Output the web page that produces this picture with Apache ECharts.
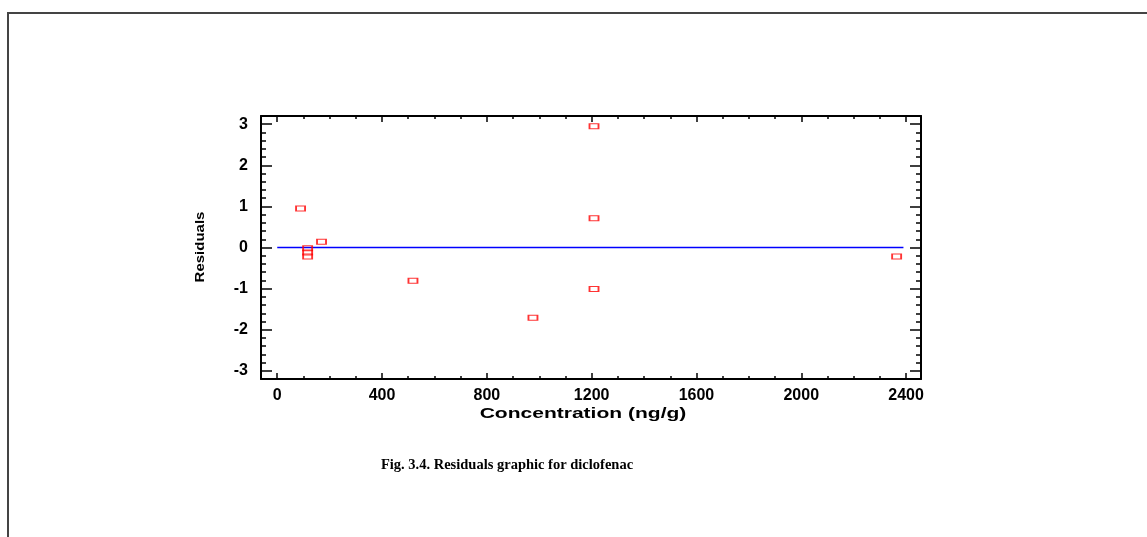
<!DOCTYPE html>
<html>
<head>
<meta charset="utf-8">
<script src="https://cdn.jsdelivr.net/npm/echarts@6/dist/echarts.min.js"></script>
<style>
html,body{margin:0;padding:0;background:#fff;}
#c{width:1147px;height:537px;}
</style>
</head>
<body>
<div id="c"></div>
<script>
// Data
var concentration = [89, 169, 116, 116, 116, 518, 976, 1209, 1209, 1209, 2364];
var residuals     = [0.95, 0.14, -0.02, -0.12, -0.22, -0.81, -1.71, 2.95, 0.71, -1.01, -0.22];
var xMajorTicks = [0, 400, 800, 1200, 1600, 2000, 2400];
var xMinorTicks = [100, 200, 300, 500, 600, 700, 900, 1000, 1100, 1300, 1400, 1500, 1700, 1800, 1900, 2100, 2200, 2300];
var yMajorTicks = [-3, -2, -1, 0, 1, 2, 3];
var yMinorTicks = [-2.8, -2.6, -2.4, -2.2, -1.8, -1.6, -1.4, -1.2, -0.8, -0.6, -0.4, -0.2, 0.2, 0.4, 0.6, 0.8, 1.2, 1.4, 1.6, 1.8, 2.2, 2.4, 2.6, 2.8];
var zeroLine = [[0, 0], [2390, 0]];
var xTitle = 'Concentration (ng/g)';
var yTitle = 'Residuals';
var caption = 'Fig. 3.4. Residuals graphic for diclofenac';

var X_MIN = -62, X_MAX = 2457, Y_MIN = -3.2, Y_MAX = 3.2;
var F = '"Liberation Sans", Arial, sans-serif';

function plain(v) { return String(Math.round(v * 1000) / 1000); }

function xAxisDef(pos, ticks, len, showLabel, showLine) {
  return {
    type: 'value', position: pos, min: X_MIN, max: X_MAX,
    axisLine: {show: showLine, onZero: false, lineStyle: {color: '#000', width: 2}},
    axisTick: {show: true, inside: true, length: len, customValues: ticks, lineStyle: {color: '#000', width: 1.5}},
    axisLabel: {show: showLabel, customValues: xMajorTicks, formatter: plain, color: '#000', fontFamily: F, fontWeight: 'bold', fontSize: 16, margin: 9},
    splitLine: {show: false}
  };
}
function yAxisDef(pos, ticks, len, showLabel, showLine) {
  return {
    type: 'value', position: pos, min: Y_MIN, max: Y_MAX,
    axisLine: {show: showLine, onZero: false, lineStyle: {color: '#000', width: 2}},
    axisTick: {show: true, inside: true, length: len, customValues: ticks, lineStyle: {color: '#000', width: 1.5}},
    axisLabel: {show: showLabel, customValues: yMajorTicks, formatter: plain, color: '#000', fontFamily: F, fontWeight: 'bold', fontSize: 16, margin: 13},
    splitLine: {show: false}
  };
}

var chart = echarts.init(document.getElementById('c'), null, {renderer: 'canvas'});
chart.setOption({
  backgroundColor: '#fff',
  animation: false,
  grid: {left: 261, top: 116, width: 660, height: 263, containLabel: false},
  xAxis: [
    xAxisDef('bottom', xMajorTicks, 6, true, true),
    xAxisDef('bottom', xMinorTicks, 3, false, false),
    xAxisDef('top', xMajorTicks, 6, false, true),
    xAxisDef('top', xMinorTicks, 3, false, false)
  ],
  yAxis: [
    yAxisDef('left', yMajorTicks, 11, true, true),
    yAxisDef('left', yMinorTicks, 5, false, false),
    yAxisDef('right', yMajorTicks, 11, false, true),
    yAxisDef('right', yMinorTicks, 5, false, false)
  ],
  graphic: [
    {type: 'rect', shape: {x: 8, y: 13, width: 1200, height: 600}, style: {fill: 'none', stroke: '#444', lineWidth: 2}, silent: true},
    {type: 'text', x: 583, y: 414, scaleX: 1.45, style: {text: xTitle, font: 'bold 14.5px ' + F, fill: '#000', align: 'center', verticalAlign: 'middle'}},
    {type: 'text', x: 200, y: 247, rotation: Math.PI / 2, style: {text: yTitle, font: 'bold 15px ' + F, fill: '#000', align: 'center', verticalAlign: 'middle'}, scaleX: 1.0, scaleY: 0.85},
    {type: 'text', x: 507, y: 465, style: {text: caption, font: 'bold 14.5px "Liberation Serif", "Times New Roman", serif', fill: '#000', align: 'center', verticalAlign: 'middle'}}
  ],
  series: [
    {
      type: 'line', data: zeroLine, xAxisIndex: 0, yAxisIndex: 0,
      showSymbol: false, symbol: 'none', lineStyle: {color: '#0000ff', width: 1.3}, z: 2
    },
    {
      type: 'scatter', data: concentration.map(function (x, i) { return [x, residuals[i]]; }),
      xAxisIndex: 0, yAxisIndex: 0,
      symbol: 'rect', symbolSize: [9, 5],
      itemStyle: {color: 'rgba(255,255,255,0)', borderColor: '#ff0000', borderWidth: 1.4}, z: 3
    }
  ]
});
</script>
</body>
</html>
